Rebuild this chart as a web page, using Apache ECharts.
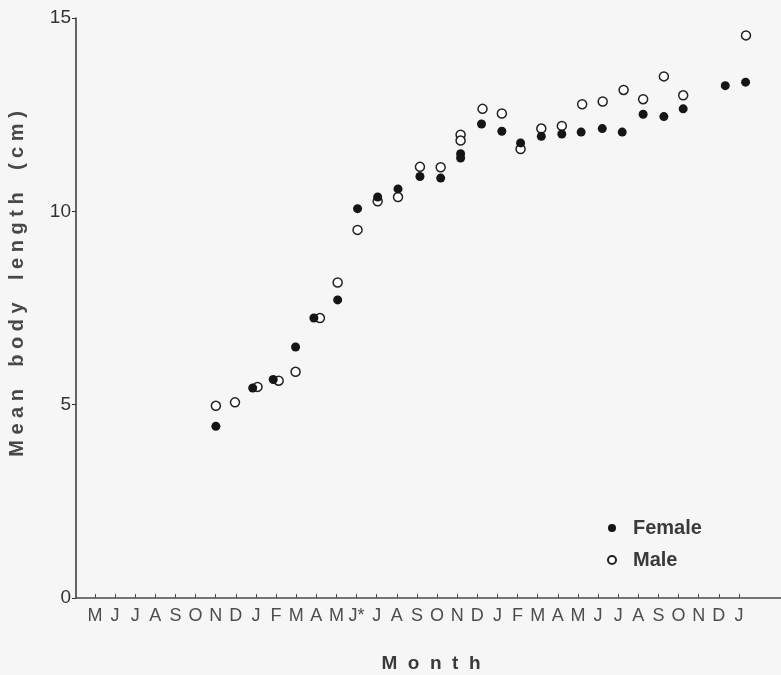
<!DOCTYPE html>
<html>
<head>
<meta charset="utf-8">
<title>Mean body length by month</title>
<script src="https://cdn.jsdelivr.net/npm/echarts@6/dist/echarts.min.js"></script>
<style>
  html, body { margin: 0; padding: 0; background: #f6f6f6; }
  #chart { width: 781px; height: 675px; }
</style>
</head>
<body>
<div id="chart"></div>
<script>
// Month tick labels along the x axis (index 0 = first May)
const months = ['M','J','J','A','S','O','N','D','J','F','M','A','M','J*','J','A','S','O','N','D','J','F','M','A','M','J','J','A','S','O','N','D','J'];

// Sampling position (month index) and mean body length (cm), females
const femaleMonth  = [6.01, 7.84, 8.86, 9.97, 10.88, 12.06, 13.05, 14.05, 15.06, 16.15, 17.18, 18.17, 18.17, 19.21, 20.22, 21.15, 22.18, 23.20, 24.16, 25.21, 26.20, 27.24, 28.27, 29.23, 31.32, 32.33];
const femaleLength = [4.44, 5.43, 5.65, 6.49, 7.24, 7.71, 10.07, 10.37, 10.58, 10.90, 10.86, 11.49, 11.38, 12.26, 12.07, 11.77, 11.94, 12.00, 12.05, 12.14, 12.05, 12.51, 12.45, 12.65, 13.25, 13.34];

// Sampling position (month index) and mean body length (cm), males
const maleMonth  = [6.01, 6.96, 8.08, 9.13, 9.97, 11.18, 12.06, 13.05, 14.05, 15.06, 16.15, 17.18, 18.17, 18.17, 19.26, 20.22, 21.15, 22.18, 23.20, 24.21, 25.23, 26.27, 27.24, 28.27, 29.23, 32.35];
const maleLength = [4.97, 5.06, 5.46, 5.62, 5.85, 7.24, 8.16, 9.52, 10.26, 10.37, 11.15, 11.14, 11.98, 11.83, 12.65, 12.53, 11.61, 12.14, 12.21, 12.77, 12.84, 13.14, 12.90, 13.49, 13.00, 14.55];

// Y axis range and step
const lengthMin = 0, lengthMax = 15, lengthStep = 5;

const FONT = "'Liberation Sans', Arial, Helvetica, sans-serif";

function pairs(xs, ys) {
  return xs.map((x, i) => [x, ys[i]]);
}

const chart = echarts.init(document.getElementById('chart'), null, { renderer: 'canvas' });

chart.setOption({
  backgroundColor: '#f6f6f6',
  animation: false,
  grid: {
    left: 76, top: 18, width: 705, height: 580,
    containLabel: false,
    outerBoundsMode: 'none'
  },
  xAxis: {
    type: 'value',
    min: -0.94,
    max: 34.09,
    splitLine: { show: false },
    axisLine: { show: true, onZero: false, lineStyle: { color: '#4a4a4a', width: 1.5 } },
    axisTick: {
      show: true,
      inside: true,
      length: 4,
      customValues: months.map((_, i) => i),
      lineStyle: { color: '#4a4a4a', width: 1 }
    },
    axisLabel: {
      show: true,
      margin: 9,
      customValues: months.map((_, i) => i),
      formatter: v => months[Math.round(v)] || '',
      color: '#4d4d4d',
      fontSize: 18,
      fontFamily: FONT
    }
  },
  yAxis: {
    type: 'value',
    min: lengthMin,
    max: lengthMax,
    interval: lengthStep,
    splitLine: { show: false },
    axisLine: { show: true, onZero: false, lineStyle: { color: '#333', width: 1.5 } },
    axisTick: { show: true, length: 4, lineStyle: { color: '#333', width: 1 } },
    axisLabel: {
      margin: 5,
      color: '#333',
      fontSize: 19,
      fontFamily: FONT
    }
  },
  legend: {
    orient: 'vertical',
    left: 602,
    top: 513,
    itemWidth: 32,
    itemHeight: 8,
    itemGap: 12,
    data: ['Female', 'Male'],
    textStyle: {
      fontFamily: FONT,
      fontSize: 20,
      fontWeight: 'bold',
      color: '#3a3a3a',
      lineHeight: 20
    }
  },
  graphic: [
    {
      type: 'text',
      x: 17,
      y: 284,
      rotation: Math.PI / 2,
      style: {
        text: 'M e a n    b o d y    l e n g t h    ( c m )',
        font: 'bold 20px ' + FONT,
        fill: '#484848',
        align: 'center',
        verticalAlign: 'middle'
      }
    },
    {
      type: 'text',
      x: 431,
      y: 664,
      style: {
        text: 'M  o  n  t  h',
        font: 'bold 19px ' + FONT,
        fill: '#3a3a3a',
        align: 'center',
        verticalAlign: 'middle'
      }
    }
  ],
  series: [
    {
      name: 'Female',
      type: 'scatter',
      symbol: 'circle',
      symbolSize: 9,
      itemStyle: { color: '#151515', opacity: 1 },
      data: pairs(femaleMonth, femaleLength),
      z: 3
    },
    {
      name: 'Male',
      type: 'scatter',
      symbol: 'circle',
      symbolSize: 9,
      itemStyle: { color: '#ffffff', borderColor: '#222', borderWidth: 1.5, opacity: 1 },
      data: pairs(maleMonth, maleLength),
      z: 2
    }
  ]
});
</script>
</body>
</html>
